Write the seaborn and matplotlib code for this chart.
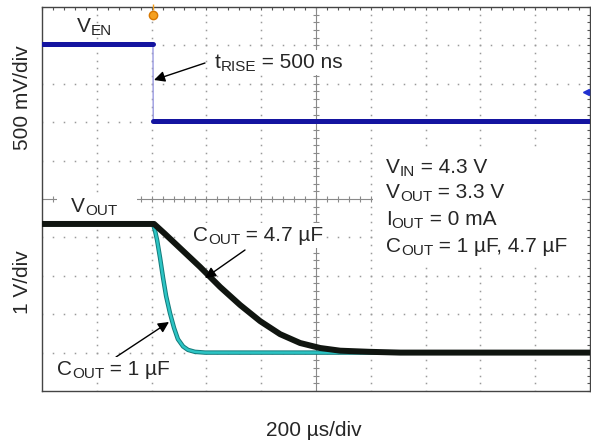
import numpy as np
import pandas as pd
import matplotlib
matplotlib.use("Agg")
import matplotlib.pyplot as plt
from matplotlib.patches import Rectangle
import seaborn as sns

# EN step (time in us, level in V)
ven_time = [0, 405, 406, 2000]
ven_volts = [1.0, 1.0, 0.0, 0.0]

# VOUT discharge with COUT = 1 uF
vout1_time = [0, 405, 412, 420, 431, 442, 453, 467, 482, 496, 515, 533, 558, 595, 2000]
vout1_volts = [3.35, 3.35, 3.19, 2.93, 2.46, 1.94, 1.47, 1.03, 0.64, 0.35, 0.16, 0.07, 0.02, 0.0, 0.0]

# VOUT discharge with COUT = 4.7 uF
vout47_time = [0, 409, 449, 504, 577, 650, 723, 796, 869, 942, 1015, 1088, 1197, 1307, 2000]
vout47_volts = [3.35, 3.35, 3.09, 2.72, 2.23, 1.71, 1.24, 0.82, 0.48, 0.25, 0.12, 0.05, 0.02, 0.0, 0.0]

# test conditions, (text, subscript) pieces
params = [[("V", False), ("IN", True), (" = 4.3 V", False)],
          [("V", False), ("OUT", True), (" = 3.3 V", False)],
          [("I", False), ("OUT", True), (" = 0 mA", False)],
          [("C", False), ("OUT", True), (" = 1 \u00b5F, 4.7 \u00b5F", False)]]

# scope channel settings (V/div, ground position in div)
EN_SCALE, EN_GND = 0.5, 7.04
OUT_SCALE, OUT_GND = 1.0, 1.0

sns.set_style("white")
plt.rcParams["font.family"] = ["Liberation Sans", "DejaVu Sans"]

W, H = 591, 444
fig = plt.figure(figsize=(W / 100, H / 100), dpi=100)
ax = fig.add_axes([42 / W, 1 - 391 / H, 548 / W, 384 / H])
renderer = fig.canvas.get_renderer()


def fp(px, py):
    return (px / W, 1 - py / H)


def white_box(x0, y0, x1, y1):
    fig.patches.append(Rectangle(fp(x0, y1), (x1 - x0) / W, (y1 - y0) / H,
                                 transform=fig.transFigure, facecolor="white",
                                 edgecolor="none", zorder=7))


def rich(px, py, pieces, bg=False):
    x = px
    for s, sub in pieces:
        t = fig.text(*fp(x, py + (3 if sub else 0)), s, fontsize=11 if sub else 15,
                     ha="left", va="baseline", zorder=8)
        x += t.get_window_extent(renderer).width
    if bg:
        white_box(px - 3, py - 18, x + 3, py + 7)


en = pd.DataFrame({"t": ven_time, "v": np.array(ven_volts) / EN_SCALE + EN_GND})
c1 = pd.DataFrame({"t": vout1_time, "v": np.array(vout1_volts) / OUT_SCALE + OUT_GND})
c47 = pd.DataFrame({"t": vout47_time, "v": np.array(vout47_volts) / OUT_SCALE + OUT_GND})

# graticule: dotted grid
xs_fine = np.arange(0, 2000.1, 40)
ys_fine = np.arange(0, 10.01, 0.2)
for k in range(1, 10):
    if k == 5:
        continue
    ax.plot(np.full_like(ys_fine, 200 * k), ys_fine, ls="none", marker="s",
            ms=1.1, mew=0, color="#9a9a9a", zorder=1)
    ax.plot(xs_fine, np.full_like(xs_fine, k, dtype=float), ls="none", marker="s",
            ms=1.1, mew=0, color="#9a9a9a", zorder=1)
# centre cross with ticks
ax.axhline(5, color="#8a8a8a", lw=0.8, zorder=1)
ax.axvline(1000, color="#8a8a8a", lw=0.8, zorder=1)
ax.plot(xs_fine, np.full_like(xs_fine, 5.0), ls="none", marker="|", ms=5,
        mew=0.8, color="#8a8a8a", zorder=1)
ax.plot(np.full_like(ys_fine, 1000), ys_fine, ls="none", marker="_", ms=5,
        mew=0.8, color="#8a8a8a", zorder=1)

# traces
sns.lineplot(data=en, x="t", y="v", color="#9a9ae0", lw=1.0, estimator=None,
             sort=False, ax=ax, zorder=2)
sns.lineplot(data=en.iloc[:2], x="t", y="v", color="#1414a0", lw=3.6,
             estimator=None, sort=False, ax=ax, zorder=3)
sns.lineplot(data=en.iloc[2:], x="t", y="v", color="#1414a0", lw=3.6,
             estimator=None, sort=False, ax=ax, zorder=3)
sns.lineplot(data=c1, x="t", y="v", color="#137a7a", lw=3.2, estimator=None,
             sort=False, ax=ax, zorder=3)
sns.lineplot(data=c1, x="t", y="v", color="#2cc4c4", lw=1.8, estimator=None,
             sort=False, ax=ax, zorder=3)
sns.lineplot(data=c47, x="t", y="v", color="#101510", lw=4.3, estimator=None,
             sort=False, ax=ax, zorder=4)

# markers: trigger position and EN level
ax.plot([405], [9.8], marker="o", ms=6, color="#f5a020", mec="#d87800",
        zorder=5, clip_on=False)
ax.plot([405], [10.0], marker="|", ms=4, color="#f5a020", zorder=5, clip_on=False)
ax.plot([1985], [7.79], marker="<", ms=4, color="#2030d0", zorder=5)

ax.set_xlim(0, 2000)
ax.set_ylim(0, 10)
ax.set_xticks(xs_fine)
ax.set_yticks(ys_fine)
ax.tick_params(direction="in", length=2.5, width=0.8, color="#555555",
               top=True, right=True, labelbottom=False, labelleft=False)
for s in ax.spines.values():
    s.set_color("#444444")
    s.set_linewidth(1.0)
ax.set_xlabel("")
ax.set_ylabel("")

# white patches behind the condition block and the VOUT tag
white_box(373, 150, 582, 262)
white_box(57, 193, 137, 218)

rich(77, 32, [("V", False), ("EN", True)])
rich(215, 68, [("t", False), ("RISE", True), (" = 500 ns", False)], bg=True)
rich(71, 212, [("V", False), ("OUT", True)])
rich(193, 241, [("C", False), ("OUT", True), (" = 4.7 \u00b5F", False)], bg=True)
rich(57, 375, [("C", False), ("OUT", True), (" = 1 \u00b5F", False)], bg=True)
for pieces, py in zip(params, [173, 198, 225, 252]):
    rich(386, py, pieces)

arrow = dict(arrowstyle="-|>", color="black", lw=1.0, mutation_scale=16,
             shrinkA=0, shrinkB=0)
for tip, tail in [((154, 80), (205, 63)), ((205, 278), (245, 250)),
                  ((169, 322), (116, 357))]:
    ax.annotate("", xy=fp(*tip), xytext=fp(*tail), xycoords="figure fraction",
                textcoords="figure fraction", arrowprops=arrow, zorder=9)

fig.text(*fp(23, 98), "500 mV/div", fontsize=15, rotation=90, ha="center", va="center")
fig.text(*fp(23, 282), "1 V/div", fontsize=15, rotation=90, ha="center", va="center")
fig.text(*fp(314, 430), "200 \u00b5s/div", fontsize=15, ha="center", va="center")

fig.savefig("out.png", dpi=100)
